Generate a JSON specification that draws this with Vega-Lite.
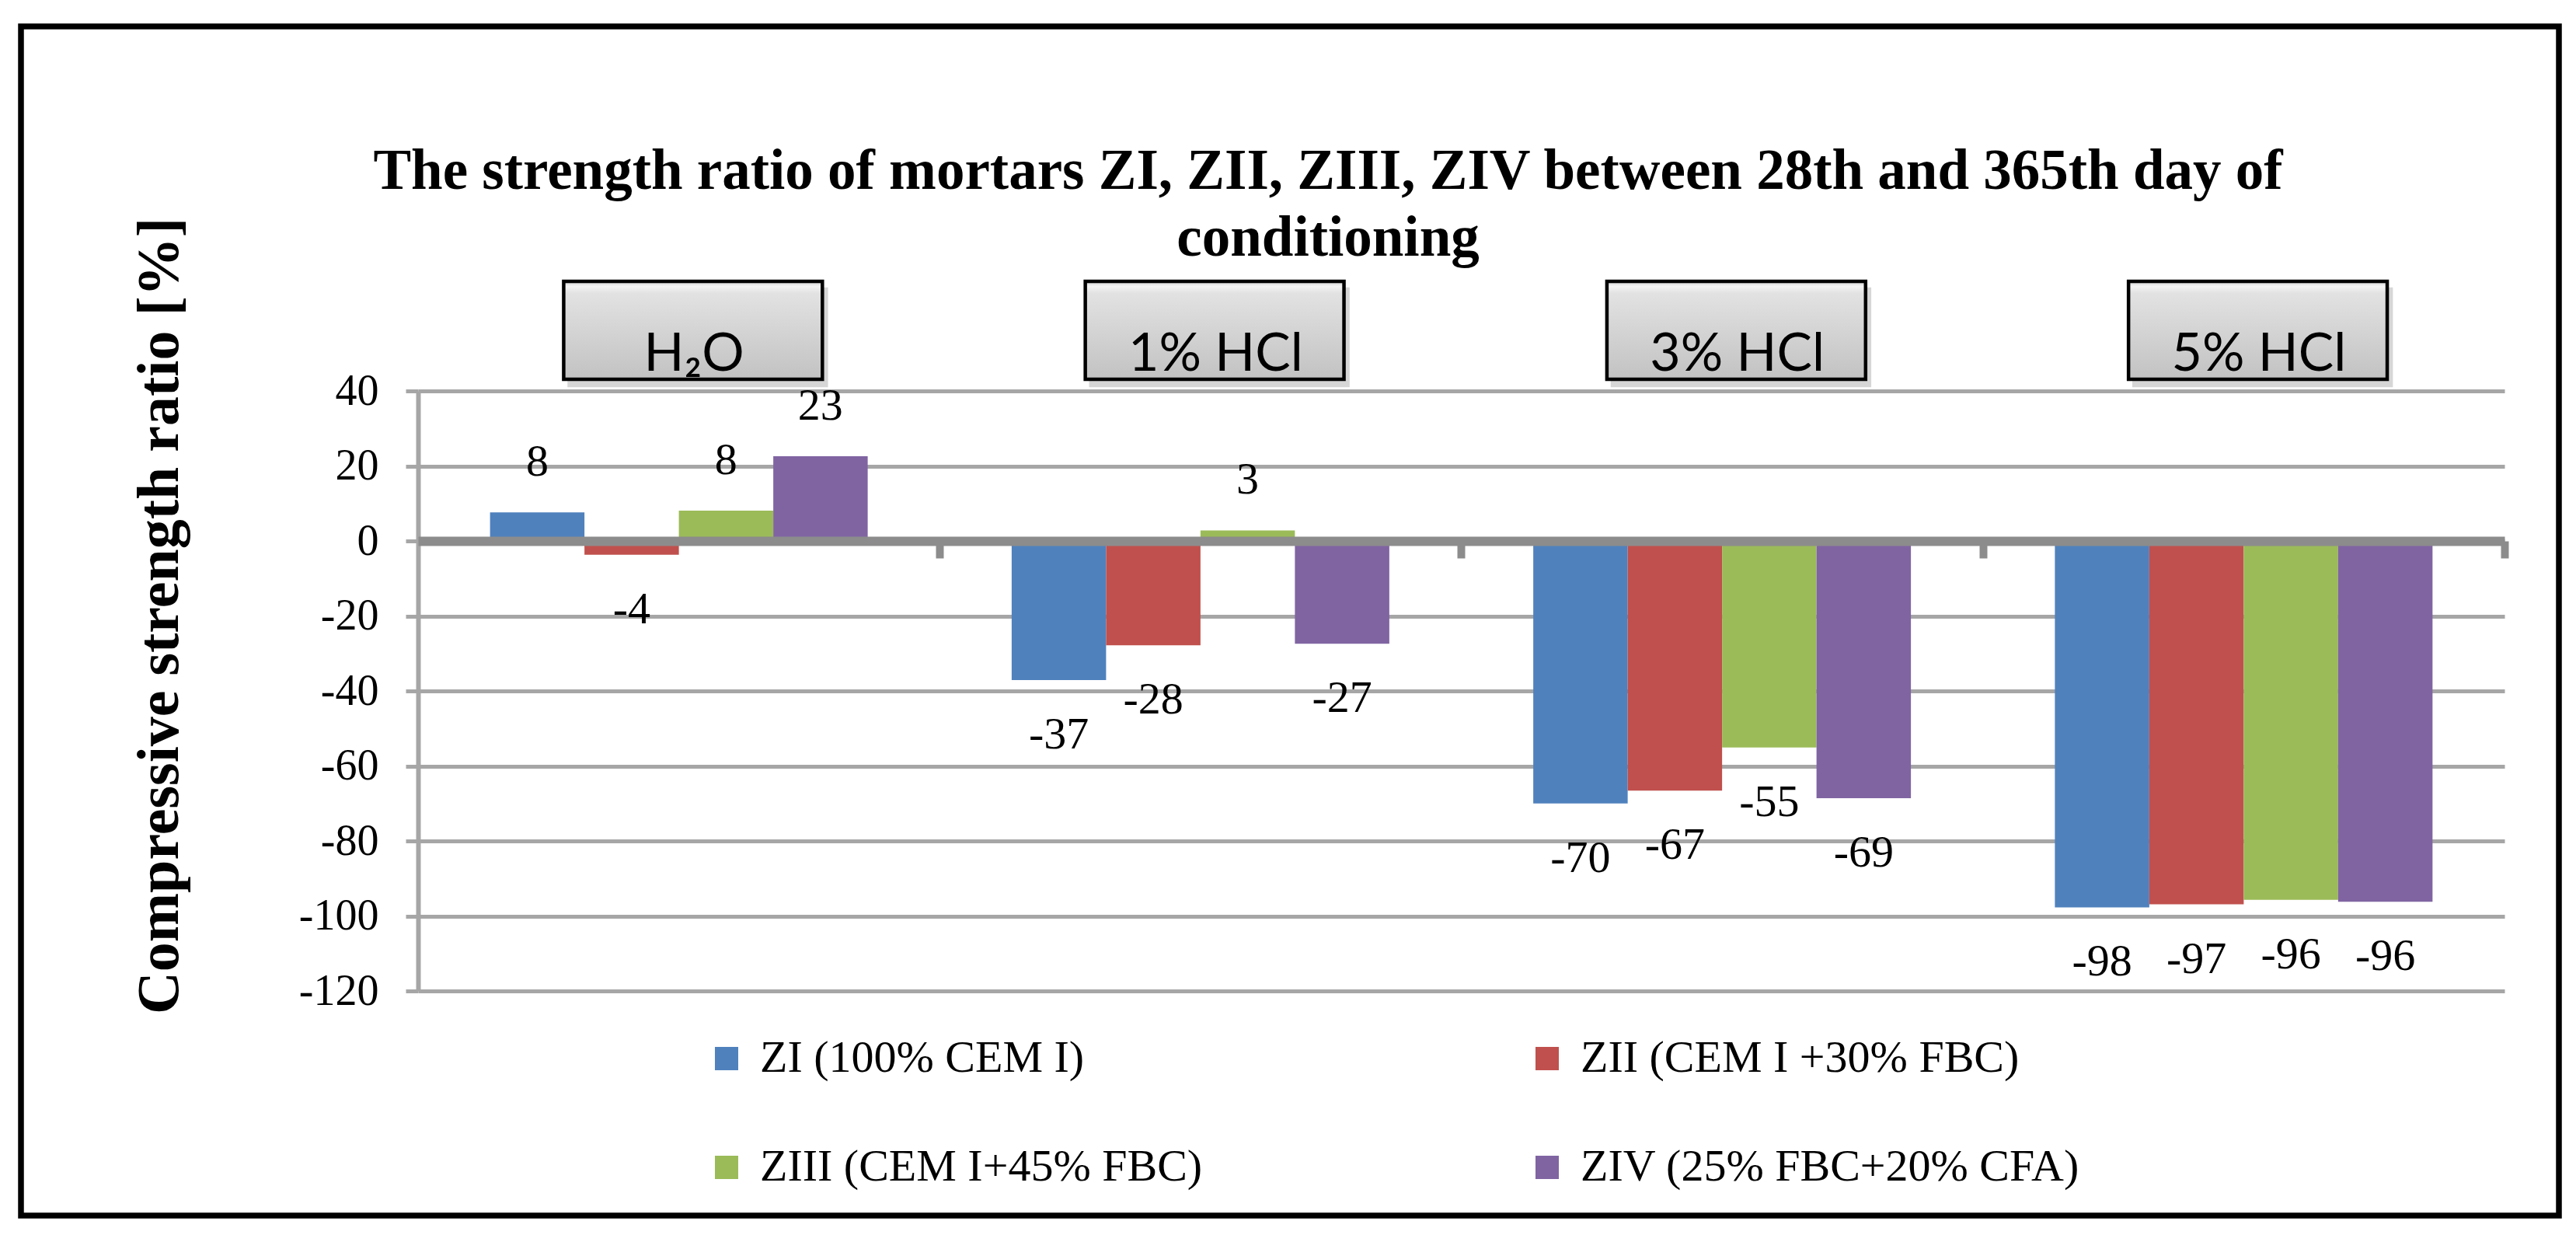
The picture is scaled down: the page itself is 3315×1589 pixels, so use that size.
{
  "$schema": "https://vega.github.io/schema/vega-lite/v6.json",
  "width": 3266,
  "height": 1530,
  "autosize": {"type": "none"},
  "padding": {"left": 27, "top": 34, "right": 22, "bottom": 25},
  "background": "white",
  "config": {
    "view": {"stroke": "black", "strokeWidth": 7.5},
    "locale": {"number": {"decimal": ".", "thousands": ",", "grouping": [3], "currency": ["$", ""], "minus": "-"}},
    "font": "Liberation Serif"
  },
  "title": {
    "text": ["The strength ratio of mortars ZI, ZII, ZIII, ZIV between 28th and 365th day of", "conditioning"],
    "font": "Liberation Serif",
    "fontSize": 73,
    "fontWeight": "bold",
    "lineHeight": 86,
    "color": "black",
    "anchor": "middle",
    "frame": "group",
    "baseline": "alphabetic",
    "offset": -212,
    "dx": 49,
    "dy": 156
  },
  "datasets": {
    "bars": [
      {"cat": "H₂O", "series": "ZI (100% CEM I)", "value": 7.6},
      {"cat": "H₂O", "series": "ZII (CEM I +30% FBC)", "value": -3.7},
      {"cat": "H₂O", "series": "ZIII (CEM I+45% FBC)", "value": 8.1},
      {"cat": "H₂O", "series": "ZIV (25% FBC+20% CFA)", "value": 22.6},
      {"cat": "1% HCl", "series": "ZI (100% CEM I)", "value": -37.1},
      {"cat": "1% HCl", "series": "ZII (CEM I +30% FBC)", "value": -27.8},
      {"cat": "1% HCl", "series": "ZIII (CEM I+45% FBC)", "value": 2.8},
      {"cat": "1% HCl", "series": "ZIV (25% FBC+20% CFA)", "value": -27.4},
      {"cat": "3% HCl", "series": "ZI (100% CEM I)", "value": -70.0},
      {"cat": "3% HCl", "series": "ZII (CEM I +30% FBC)", "value": -66.6},
      {"cat": "3% HCl", "series": "ZIII (CEM I+45% FBC)", "value": -55.1},
      {"cat": "3% HCl", "series": "ZIV (25% FBC+20% CFA)", "value": -68.6},
      {"cat": "5% HCl", "series": "ZI (100% CEM I)", "value": -97.7},
      {"cat": "5% HCl", "series": "ZII (CEM I +30% FBC)", "value": -96.9},
      {"cat": "5% HCl", "series": "ZIII (CEM I+45% FBC)", "value": -95.7},
      {"cat": "5% HCl", "series": "ZIV (25% FBC+20% CFA)", "value": -96.2}
    ],
    "headers": [
      {"cat": "H₂O"},
      {"cat": "1% HCl"},
      {"cat": "3% HCl"},
      {"cat": "5% HCl"}
    ]
  },
  "resolve": {"axis": {"x": "independent", "y": "independent"}},
  "layer": [
    {
      "data": {"name": "headers"},
      "mark": {"type": "rect", "fill": "#8a8a8a", "opacity": 0.35},
      "encoding": {
        "x": {"field": "cat", "type": "nominal", "bandPosition": 0.205, "axis": null},
        "x2": {"field": "cat", "bandPosition": 0.895},
        "y": {"datum": 67.6, "axis": null},
        "y2": {"datum": 41.0}
      }
    },
    {
      "data": {"name": "headers"},
      "mark": {
        "type": "rect",
        "stroke": "black",
        "strokeWidth": 4.5,
        "fill": {
          "gradient": "linear", "x1": 0, "y1": 0, "x2": 0, "y2": 1,
          "stops": [
            {"offset": 0, "color": "#d0d0d0"},
            {"offset": 0.05, "color": "#f4f4f4"},
            {"offset": 0.12, "color": "#e2e2e2"},
            {"offset": 1, "color": "#c2c2c2"}
          ]
        }
      },
      "encoding": {
        "x": {"field": "cat", "type": "nominal", "bandPosition": 0.195, "axis": null},
        "x2": {"field": "cat", "bandPosition": 0.88},
        "y": {"datum": 69.2, "axis": null},
        "y2": {"datum": 43.1}
      }
    },
    {
      "data": {"name": "headers"},
      "mark": {"type": "text", "font": "Lato", "fontSize": 68, "color": "black", "align": "center", "baseline": "alphabetic"},
      "encoding": {
        "x": {"field": "cat", "type": "nominal", "bandPosition": 0.54, "axis": null},
        "y": {"datum": 45.4, "axis": null},
        "text": {"field": "cat"}
      }
    },
    {
      "data": {"name": "bars"},
      "mark": {"type": "bar"},
      "encoding": {
        "x": {
          "field": "cat",
          "type": "nominal",
          "scale": {"domain": ["H₂O", "1% HCl", "3% HCl", "5% HCl"], "range": [511, 3196], "paddingInner": 0.276, "paddingOuter": 0.138},
          "axis": {
            "orient": "bottom",
            "offset": -868,
            "labels": false,
            "title": null,
            "domainColor": "#8c8c8c",
            "domainWidth": 12,
            "tickColor": "#8c8c8c",
            "tickWidth": 10,
            "tickSize": 22,
            "tickOffset": 335.6,
            "grid": false,
            "zindex": 1
          }
        },
        "xOffset": {
          "field": "series",
          "type": "nominal",
          "scale": {"domain": ["ZI (100% CEM I)", "ZII (CEM I +30% FBC)", "ZIII (CEM I+45% FBC)", "ZIV (25% FBC+20% CFA)"], "paddingInner": 0, "paddingOuter": 0}
        },
        "y": {
          "field": "value",
          "type": "quantitative",
          "scale": {"domain": [-120, 40], "range": [1241, 469], "nice": false, "zero": false},
          "axis": {
            "values": [-120, -100, -80, -60, -40, -20, 0, 20, 40],
            "offset": -511,
            "domainColor": "#a6a6a6",
            "domainWidth": 6,
            "tickColor": "#a6a6a6",
            "tickWidth": 5,
            "tickSize": 16,
            "grid": true,
            "gridColor": "#a6a6a6",
            "gridWidth": 5,
            "labelFont": "Liberation Serif",
            "labelFontSize": 56,
            "labelColor": "black",
            "labelPadding": 35,
            "labelFlush": false,
            "labelOverlap": false,
            "title": "Compressive strength ratio [%]",
            "titleFont": "Liberation Serif",
            "titleFontSize": 76,
            "titleFontWeight": "bold",
            "titleColor": "black",
            "titleX": -333,
            "titleY": 758,
            "titleAngle": -90,
            "titleAlign": "center",
            "titleBaseline": "middle"
          }
        },
        "color": {
          "field": "series",
          "type": "nominal",
          "scale": {
            "domain": ["ZI (100% CEM I)", "ZII (CEM I +30% FBC)", "ZIII (CEM I+45% FBC)", "ZIV (25% FBC+20% CFA)"],
            "range": ["#4F81BD", "#C0504D", "#9BBB59", "#8064A2"]
          },
          "legend": {
            "orient": "none",
            "legendX": 879,
            "legendY": 1299,
            "columns": 2,
            "direction": "horizontal",
            "columnPadding": 414,
            "rowPadding": 82,
            "title": null,
            "symbolType": "square",
            "symbolSize": 900,
            "symbolStrokeWidth": 0,
            "labelFont": "Liberation Serif",
            "labelFontSize": 58,
            "labelColor": "black",
            "labelOffset": 14,
            "labelLimit": 2000,
            "padding": 0
          }
        }
      }
    },
    {
      "data": {"name": "bars"},
      "transform": [{"filter": "datum.value >= 0"}],
      "mark": {"type": "text", "font": "Liberation Serif", "fontSize": 58, "color": "black", "baseline": "middle", "align": "center", "dy": -64},
      "encoding": {
        "x": {"field": "cat", "type": "nominal", "axis": null},
        "xOffset": {"field": "series", "type": "nominal"},
        "y": {"field": "value", "type": "quantitative", "axis": null},
        "text": {"field": "value", "type": "quantitative", "format": ".0f"}
      }
    },
    {
      "data": {"name": "bars"},
      "transform": [{"filter": "datum.value < 0"}],
      "mark": {"type": "text", "font": "Liberation Serif", "fontSize": 58, "color": "black", "baseline": "middle", "align": "center", "dy": 71},
      "encoding": {
        "x": {"field": "cat", "type": "nominal", "axis": null},
        "xOffset": {"field": "series", "type": "nominal"},
        "y": {"field": "value", "type": "quantitative", "axis": null},
        "text": {"field": "value", "type": "quantitative", "format": ".0f"}
      }
    }
  ]
}
